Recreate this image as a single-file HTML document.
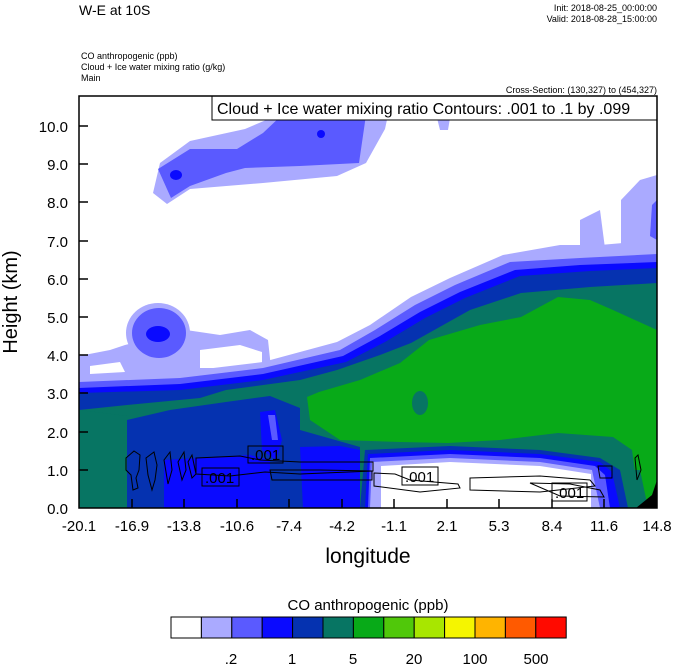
<!DOCTYPE html>
<html><head><meta charset="utf-8"><style>
body{margin:0;background:#fff;}
svg{display:block;font-family:"Liberation Sans",sans-serif;}
</style></head><body>
<svg width="674" height="667" viewBox="0 0 674 667" xmlns="http://www.w3.org/2000/svg">
<rect width="674" height="667" fill="#fff"/>
<text x="79" y="15" font-size="14">W-E at 10S</text>
<text x="657" y="11" font-size="9" text-anchor="end">Init: 2018-08-25_00:00:00</text>
<text x="657" y="22" font-size="9" text-anchor="end">Valid: 2018-08-28_15:00:00</text>
<text x="81" y="59" font-size="9">CO anthropogenic   (ppb)</text>
<text x="81" y="70" font-size="9">Cloud + Ice water mixing ratio   (g/kg)</text>
<text x="81" y="81" font-size="9">Main</text>
<text x="657" y="93" font-size="9" text-anchor="end">Cross-Section: (130,327) to (454,327)</text>

<svg x="79" y="96" width="578" height="412" viewBox="79 96 578 412" overflow="hidden">
<!-- upper clouds -->
<path d="M153,193 L160,163 L190,141 L245,129 L278,115 L388,115 L385,129 L366,163 L337,176 L263,183 L190,189 L167,204 Z" fill="#aaaaff"/>
<path d="M158,169 L190,149 L237,149 L263,133 L282,115 L366,115 L359,163 L300,166 L245,168 L226,173 L190,186 L171,198 Z" fill="#5a5aff"/>
<ellipse cx="176" cy="175" rx="6" ry="5" fill="#0a0aff"/>
<ellipse cx="321" cy="134" rx="4" ry="4" fill="#0a0aff"/>
<path d="M437,118 L450,118 L448,130 L440,130 Z" fill="#aaaaff"/>
<path d="M621,200 L640,180 L657,175 L657,290 L600,290 L621,250 Z" fill="#aaaaff"/>
<path d="M580,220 L600,210 L606,256 L580,262 Z" fill="#aaaaff"/>
<path d="M652,205 L657,200 L657,240 L650,236 Z" fill="#5a5aff"/>
<path d="M79,356 L110,350 L125,345 L186,330 L220,335 L250,330 L268,340 L272,377 L79,380 Z" fill="#aaaaff"/>
<path d="M90,366 L120,362 L125,372 L90,374 Z" fill="#fff"/>
<path d="M200,350 L240,345 L262,352 L262,368 L200,368 Z" fill="#fff"/>
<ellipse cx="158" cy="333" rx="32" ry="30" fill="#aaaaff"/>
<ellipse cx="159" cy="333" rx="27" ry="25" fill="#5a5aff"/>
<ellipse cx="158" cy="334" rx="12" ry="8" fill="#0a0aff"/>
<!-- main bands -->
<path d="M79,378 L180,372 L263,362 L337,342 L370,325 L411,297 L450,278 L503,255 L560,245 L600,245 L657,240 L657,508 L79,508 Z" fill="#aaaaff"/>
<path d="M79,382 L180,378 L263,368 L340,350 L375,330 L415,305 L455,285 L510,262 L580,258 L657,254 L657,508 L79,508 Z" fill="#5a5aff"/>
<path d="M79,388 L180,384 L263,374 L343,356 L380,336 L420,312 L460,292 L515,270 L580,265 L657,262 L657,508 L79,508 Z" fill="#0a0aff"/>
<path d="M79,393 L180,390 L263,380 L346,362 L385,342 L425,318 L465,298 L520,276 L590,271 L657,268 L657,508 L79,508 Z" fill="#0532b0"/>
<path d="M79,410 L127,405 L200,398 L226,390 L300,380 L337,370 L380,355 L411,343 L470,310 L521,293 L590,287 L657,283 L657,508 L79,508 Z" fill="#077563"/>
<path d="M307,397 L319,392 L360,380 L400,363 L429,340 L480,325 L521,317 L558,297 L590,300 L613,310 L657,330 L657,508 L640,508 L632,450 L613,437 L558,433 L500,440 L448,443 L400,442 L340,440 L310,420 Z" fill="#08aa18"/>
<ellipse cx="420" cy="403" rx="8" ry="12" fill="#077563"/>
<!-- lower left blue -->
<path d="M127,420 L170,410 L226,402 L270,396 L300,408 L300,430 L360,447 L360,508 L127,508 Z" fill="#0532b0"/>
<path d="M127,420 L170,414 L200,420 L215,455 L127,460 Z" fill="#077563" opacity="0"/>
<path d="M79,410 L127,416 L127,508 L79,508 Z" fill="#077563"/>
<path d="M164,460 L250,455 L270,460 L270,508 L164,508 Z" fill="#0a0aff"/>
<path d="M300,447 L340,446 L360,450 L360,508 L303,508 Z" fill="#0a0aff"/>
<path d="M260,412 L275,410 L282,440 L276,460 L262,450 Z" fill="#0a0aff"/>
<path d="M268,415 L275,415 L278,440 L272,440 Z" fill="#5a5aff"/>
<!-- band above white bottom -->
<path d="M365,450 L450,446 L540,450 L600,458 L620,470 L634,508 L360,508 Z" fill="#0532b0"/>
<path d="M368,454 L450,450 L540,454 L600,462 L612,472 L620,508 L365,508 Z" fill="#0a0aff"/>
<path d="M370,458 L450,454 L540,458 L595,466 L605,475 L610,508 L368,508 Z" fill="#5a5aff"/>
<path d="M372,462 L450,458 L540,462 L592,470 L600,508 L370,508 Z" fill="#aaaaff"/>
<path d="M381,466 L450,462 L540,466 L591,474 L591,508 L400,508 L400,475 L381,475 Z" fill="#fff"/>
<path d="M381,466 L400,466 L400,508 L381,508 Z" fill="#fff"/>
<path d="M620,470 L640,470 L648,508 L628,508 Z" fill="#077563"/>
<path d="M636,508 L652,495 L657,480 L657,508 Z" fill="#000"/>
<!-- contours -->
<g fill="none" stroke="#000" stroke-width="1">
<path d="M126,458 L134,451 L140,455 L139,470 L136,478 L138,488 L133,490 L131,475 L126,470 Z"/>
<path d="M146,458 L154,452 L157,465 L155,480 L152,490 L148,475 Z"/>
<path d="M164,460 L170,452 L172,470 L168,484 Z"/>
<path d="M178,462 L184,452 L186,470 L182,480 Z"/>
<path d="M188,462 L192,455 L196,474 L192,478 Z"/>
<path d="M196,458 L240,456 L260,460 L300,462 L373,462 L373,471 L300,474 L265,472 L230,476 L196,474 Z"/>
<path d="M270,470 L320,470 L372,471 L372,480 L272,480 Z"/>
<path d="M374,473 L395,474 L410,480 L458,484 L460,488 L420,492 L374,486 Z"/>
<path d="M470,478 L540,476 L590,480 L595,486 L540,492 L470,490 Z"/>
<path d="M530,483 L570,484 L600,490 L604,497 L560,496 Z"/>
<path d="M598,466 L612,466 L612,478 L600,478 Z"/>
<path d="M635,458 L638,455 L641,470 L637,480 Z"/>
</g>
</svg>
<!-- labels boxes -->
<g font-size="15">
<rect x="248" y="446" width="35" height="17" fill="none" stroke="#000"/>
<text x="251" y="460">.001</text>
<rect x="202" y="468" width="37" height="18" fill="none" stroke="#000"/>
<text x="205" y="483">.001</text>
<rect x="402" y="467" width="36" height="18" fill="none" stroke="#000"/>
<text x="405" y="482">.001</text>
<rect x="552" y="483" width="35" height="18" fill="none" stroke="#000"/>
<text x="555" y="498">.001</text>
</g>
<rect x="212" y="96" width="445" height="24" fill="#fff" stroke="#000"/>
<text x="217" y="114" font-size="16">Cloud + Ice water mixing ratio Contours: .001 to .1 by .099</text>
<rect x="79" y="96" width="578" height="412" fill="none" stroke="#000" stroke-width="1.5"/>
<!-- ticks -->
<g stroke="#000" stroke-width="1.5">
<line x1="79" y1="470" x2="88" y2="470"/><line x1="79" y1="432" x2="88" y2="432"/>
<line x1="79" y1="393" x2="88" y2="393"/><line x1="79" y1="355" x2="88" y2="355"/>
<line x1="79" y1="317" x2="88" y2="317"/><line x1="79" y1="279" x2="88" y2="279"/>
<line x1="79" y1="241" x2="88" y2="241"/><line x1="79" y1="202" x2="88" y2="202"/>
<line x1="79" y1="164" x2="88" y2="164"/><line x1="79" y1="126" x2="88" y2="126"/>
<line x1="132" y1="508" x2="132" y2="499"/><line x1="184" y1="508" x2="184" y2="499"/>
<line x1="237" y1="508" x2="237" y2="499"/><line x1="289" y1="508" x2="289" y2="499"/>
<line x1="342" y1="508" x2="342" y2="499"/><line x1="394" y1="508" x2="394" y2="499"/>
<line x1="447" y1="508" x2="447" y2="499"/><line x1="499" y1="508" x2="499" y2="499"/>
<line x1="552" y1="508" x2="552" y2="499"/><line x1="604" y1="508" x2="604" y2="499"/>
</g>
<g font-size="15" text-anchor="end">
<text x="68" y="514">0.0</text><text x="68" y="476">1.0</text><text x="68" y="438">2.0</text>
<text x="68" y="399">3.0</text><text x="68" y="361">4.0</text><text x="68" y="323">5.0</text>
<text x="68" y="285">6.0</text><text x="68" y="247">7.0</text><text x="68" y="208">8.0</text>
<text x="68" y="170">9.0</text><text x="68" y="132">10.0</text>
</g>
<g font-size="15" text-anchor="middle">
<text x="79" y="531">-20.1</text><text x="132" y="531">-16.9</text><text x="184" y="531">-13.8</text>
<text x="237" y="531">-10.6</text><text x="289" y="531">-7.4</text><text x="342" y="531">-4.2</text>
<text x="394" y="531">-1.1</text><text x="447" y="531">2.1</text><text x="499" y="531">5.3</text>
<text x="552" y="531">8.4</text><text x="604" y="531">11.6</text><text x="657" y="531">14.8</text>
</g>
<text x="368" y="563" font-size="21" text-anchor="middle">longitude</text>
<text transform="translate(17,302) rotate(-90)" font-size="20" text-anchor="middle">Height (km)</text>
<!-- colorbar -->
<text x="368" y="610" font-size="15" text-anchor="middle">CO anthropogenic  (ppb)</text>
<g stroke="#000" stroke-width="1">
<rect x="171" y="617" width="30.4" height="21" fill="#fff"/>
<rect x="201.4" y="617" width="30.4" height="21" fill="#aaaaff"/>
<rect x="231.8" y="617" width="30.4" height="21" fill="#5a5aff"/>
<rect x="262.2" y="617" width="30.4" height="21" fill="#0a0aff"/>
<rect x="292.6" y="617" width="30.4" height="21" fill="#0532b0"/>
<rect x="323" y="617" width="30.4" height="21" fill="#077563"/>
<rect x="353.4" y="617" width="30.4" height="21" fill="#08aa18"/>
<rect x="383.8" y="617" width="30.4" height="21" fill="#50c80a"/>
<rect x="414.2" y="617" width="30.4" height="21" fill="#a8e600"/>
<rect x="444.6" y="617" width="30.4" height="21" fill="#f5f500"/>
<rect x="475" y="617" width="30.4" height="21" fill="#ffb400"/>
<rect x="505.4" y="617" width="30.4" height="21" fill="#ff5a00"/>
<rect x="535.8" y="617" width="30.4" height="21" fill="#ff0a00"/>
</g>
<g font-size="15" text-anchor="middle">
<text x="231" y="664">.2</text><text x="292" y="664">1</text><text x="353" y="664">5</text>
<text x="414" y="664">20</text><text x="475" y="664">100</text><text x="536" y="664">500</text>
</g>
</svg>
</body></html>
